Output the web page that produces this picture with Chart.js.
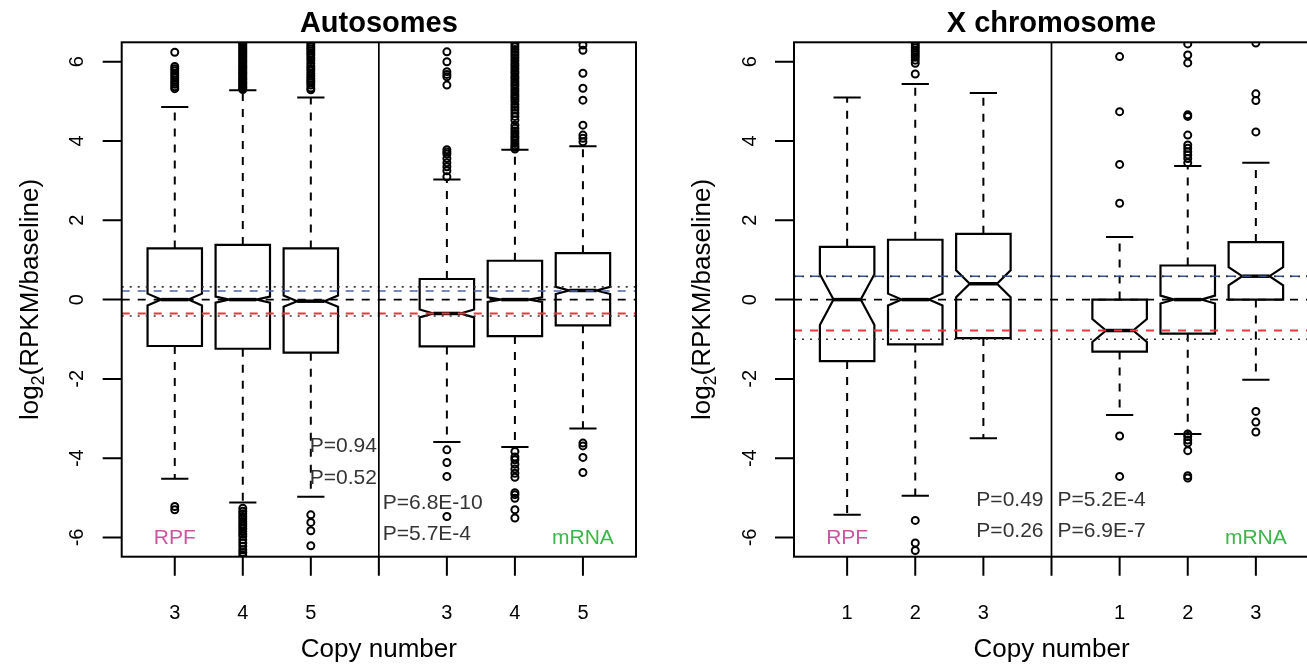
<!DOCTYPE html>
<html>
<head>
<meta charset="utf-8">
<script src="https://cdn.jsdelivr.net/npm/chart.js@4.4.1/dist/chart.umd.min.js"></script>
<style>
html, body { margin: 0; padding: 0; background: #fff; overflow: hidden; }
#wrap { position: relative; width: 1307px; height: 670px; overflow: hidden; }
canvas { position: absolute; top: 0; }
</style>
</head>
<body>
<div id="wrap">
  <canvas id="cAuto" width="660" height="670" style="left:0px"></canvas>
  <canvas id="cX" width="660" height="670" style="left:660px"></canvas>
</div>
<script>
// box positions on x (4 is the RPF | mRNA divider)
const positions = [1, 2, 3, 5, 6, 7];
const tickPos = [1, 2, 3, 4, 5, 6, 7];
const autoTickLabels = ['3', '4', '5', '', '3', '4', '5'];
const xTickLabels = ['1', '2', '3', '', '1', '2', '3'];
const yTicks = [-6, -4, -2, 0, 2, 4, 6];

// Autosomes: RPF cn 3,4,5 then mRNA cn 3,4,5
const autoQ1 = [-1.17, -1.24, -1.34, -1.18, -0.92, -0.65];
const autoMed = [0, 0, -0.04, -0.35, 0, 0.23];
const autoQ3 = [1.29, 1.38, 1.29, 0.52, 0.98, 1.17];
const autoNotch = [0.15, 0.075, 0.14, 0.10, 0.06, 0.09];
const autoLo = [-4.52, -5.12, -4.97, -3.59, -3.72, -3.25];
const autoHi = [4.86, 5.28, 5.10, 3.03, 3.78, 3.87];
const autoOut = [
  [6.24, 5.88, 5.82, 5.77, 5.71, 5.66, 5.60, 5.54, 5.48, 5.43, 5.37, 5.32, -5.22, -5.30],
  [5.30, 5.33, 5.36, 5.40, 5.44, 5.47, 5.51, 5.55, 5.58, 5.62, 5.66, 5.70, 5.73, 5.77, 5.81, 5.85,
   5.88, 5.92, 5.96, 6.00, 6.04, 6.08, 6.12, 6.16, 6.20, 6.24, 6.28, 6.32, 6.36, 6.40, 6.44, 6.48,
   -5.26, -5.34, -5.40, -5.47, -5.53, -5.60, -5.66, -5.72, -5.78, -5.85, -5.91, -5.97, -6.06, -6.14,
   -6.22, -6.31, -6.38, -6.45],
  [5.29, 5.34, 5.41, 5.47, 5.52, 5.58, 5.64, 5.70, 5.77, 5.83, 5.89, 5.96, 6.04, 6.10, 6.17, 6.22,
   6.28, 6.33, 6.38, 6.44, -5.43, -5.62, -5.83, -6.21],
  [6.25, 6.00, 5.75, 5.68, 5.62, 5.41, 3.78, 3.72, 3.67, 3.56, 3.45, 3.35, 3.25, 3.10,
   -3.79, -4.11, -4.46, -5.47],
  [3.80, 3.84, 3.88, 3.94, 4.00, 4.07, 4.12, 4.19, 4.25, 4.32, 4.40, 4.53, 4.62, 4.70, 4.78, 4.85,
   4.92, 5.00, 5.06, 5.12, 5.18, 5.25, 5.31, 5.38, 5.44, 5.50, 5.57, 5.63, 5.70, 5.76, 5.83, 5.90,
   5.96, 6.03, 6.10, 6.17, 6.24, 6.31, 6.38, 6.45,
   -3.83, -3.97, -4.04, -4.15, -4.27, -4.38, -4.48, -4.87, -4.92, -5.01, -5.30, -5.51],
  [6.42, 6.29, 5.71, 5.33, 5.03, 4.40, 4.15, 4.07, 3.98, -3.62, -3.69, -3.98, -4.36]
];
const autoDotted = [0.32, -0.415];
const autoBlue = [0.22];
const autoRed = [-0.35];
const autoP = ['P=0.94', 'P=0.52', 'P=6.8E-10', 'P=5.7E-4'];

// X chromosome: RPF cn 1,2,3 then mRNA cn 1,2,3
const xQ1 = [-1.55, -1.13, -0.97, -1.31, -0.86, 0];
const xMed = [0, 0, 0.40, -0.78, 0, 0.59];
const xQ3 = [1.33, 1.51, 1.66, 0, 0.86, 1.45];
const xNotch = [0.64, 0.15, 0.34, 0.29, 0.10, 0.23];
const xLo = [-5.43, -4.95, -3.50, -2.91, -3.39, -2.02];
const xHi = [5.10, 5.44, 5.21, 1.58, 3.37, 3.45];
const xOut = [
  [],
  [6.46, 6.40, 6.35, 6.29, 6.23, 6.17, 6.11, 6.04, 5.96, 5.69, -5.57, -6.14, -6.33],
  [],
  [6.13, 4.74, 3.41, 2.43, -3.44, -4.46],
  [6.45, 6.17, 5.97, 4.66, 4.62, 4.15, 3.90, 3.82, 3.73, 3.65, 3.56, 3.45,
   -3.39, -3.45, -3.54, -3.62, -3.81, -4.44, -4.50],
  [6.47, 5.19, 5.02, 4.23, -2.82, -3.09, -3.34]
];
const xDotted = [0.585, -1.0];
const xBlue = [0.59];
const xRed = [-0.78];
const xP = ['P=0.49', 'P=0.26', 'P=5.2E-4', 'P=6.9E-7'];

const XMIN = 0.22, XMAX = 7.78;
const YMIN = -6.485, YMAX = 6.49;
const FONT = '"Liberation Sans", Arial, Helvetica, sans-serif';


function hline(v, color, dash, width)
{
  return {
    data: [{x: XMIN, y: v}, {x: XMAX, y: v}],
    showLine: true, pointRadius: 0,
    borderColor: color, borderWidth: width, borderDash: dash
  };
}


function drawBoxes(chart, st)
{
  const ctx = chart.ctx, xs = chart.scales.x, ys = chart.scales.y;
  const Y = v => ys.getPixelForValue(v);
  ctx.save();
  ctx.strokeStyle = '#000';
  for (let i = 0; i < positions.length; i++) {
    const xc = xs.getPixelForValue(positions[i]);
    const w = xs.getPixelForValue(positions[i] + 0.4) - xc;
    const cap = w * 0.5;
    const med = st.med[i], nh = st.notch[i];

    // whiskers
    ctx.lineWidth = 2;
    ctx.setLineDash([8, 8]);
    ctx.beginPath();
    ctx.moveTo(xc, Y(st.q3[i])); ctx.lineTo(xc, Y(st.hi[i]));
    ctx.moveTo(xc, Y(st.q1[i])); ctx.lineTo(xc, Y(st.lo[i]));
    ctx.stroke();
    ctx.setLineDash([]);
    ctx.beginPath();
    ctx.moveTo(xc - cap, Y(st.hi[i])); ctx.lineTo(xc + cap, Y(st.hi[i]));
    ctx.moveTo(xc - cap, Y(st.lo[i])); ctx.lineTo(xc + cap, Y(st.lo[i]));
    ctx.stroke();

    // notched box
    ctx.lineWidth = 2.2;
    ctx.beginPath();
    ctx.moveTo(xc - w, Y(st.q1[i]));
    ctx.lineTo(xc - w, Y(med - nh));
    ctx.lineTo(xc - w / 2, Y(med));
    ctx.lineTo(xc - w, Y(med + nh));
    ctx.lineTo(xc - w, Y(st.q3[i]));
    ctx.lineTo(xc + w, Y(st.q3[i]));
    ctx.lineTo(xc + w, Y(med + nh));
    ctx.lineTo(xc + w / 2, Y(med));
    ctx.lineTo(xc + w, Y(med - nh));
    ctx.lineTo(xc + w, Y(st.q1[i]));
    ctx.closePath();
    ctx.stroke();

    // median
    ctx.lineWidth = 3.5;
    ctx.beginPath();
    ctx.moveTo(xc - w / 2, Y(med)); ctx.lineTo(xc + w / 2, Y(med));
    ctx.stroke();
  }
  ctx.restore();
}


function drawFrame(chart, st)
{
  const ctx = chart.ctx, xs = chart.scales.x, ys = chart.scales.y;
  const a = chart.chartArea;
  const Y = v => ys.getPixelForValue(v);
  const X = v => xs.getPixelForValue(v);
  ctx.save();
  ctx.strokeStyle = '#000';
  ctx.fillStyle = '#000';

  // frame + divider
  ctx.lineWidth = 2;
  ctx.strokeRect(a.left, a.top, a.right - a.left, a.bottom - a.top);
  ctx.lineWidth = 1.7;
  ctx.beginPath();
  ctx.moveTo(X(4), a.top); ctx.lineTo(X(4), a.bottom);
  ctx.stroke();

  // ticks
  ctx.lineWidth = 2;
  ctx.beginPath();
  tickPos.forEach(p => { ctx.moveTo(X(p), a.bottom); ctx.lineTo(X(p), a.bottom + 19); });
  yTicks.forEach(v => { ctx.moveTo(a.left - 19, Y(v)); ctx.lineTo(a.left, Y(v)); });
  ctx.stroke();

  ctx.font = '20px ' + FONT;
  ctx.textAlign = 'center';
  ctx.textBaseline = 'middle';
  tickPos.forEach((p, i) => ctx.fillText(st.ticks[i], X(p), a.bottom + 57));

  // y tick labels, rotated
  ctx.font = '20px ' + FONT;
  yTicks.forEach(v => {
    ctx.save();
    ctx.translate(a.left - 45, Y(v));
    ctx.rotate(-Math.PI / 2);
    ctx.fillText(String(v), 0, 1);
    ctx.restore();
  });

  // titles
  const cx = (a.left + a.right) / 2;
  ctx.textBaseline = 'alphabetic';
  ctx.font = 'bold 29px ' + FONT;
  ctx.fillText(st.title, cx, 31.7);
  ctx.font = '26px ' + FONT;
  ctx.fillText('Copy number', cx, 657);

  // y axis title with subscript
  ctx.save();
  ctx.translate(a.left - 93 + 9, (a.top + a.bottom) / 2);
  ctx.rotate(-Math.PI / 2);
  ctx.textAlign = 'left';
  const t1 = 'log', t3 = '(RPKM/baseline)';
  ctx.font = '26px ' + FONT;
  const w1 = ctx.measureText(t1).width, w3 = ctx.measureText(t3).width;
  ctx.font = '18px ' + FONT;
  const w2 = ctx.measureText('2').width;
  let x0 = -(w1 + w2 + w3) / 2;
  ctx.font = '26px ' + FONT;
  ctx.fillText(t1, x0, 0);
  ctx.font = '18px ' + FONT;
  ctx.fillText('2', x0 + w1, 6);
  ctx.font = '26px ' + FONT;
  ctx.fillText(t3, x0 + w1 + w2, 0);
  ctx.restore();

  // group labels
  ctx.textBaseline = 'middle';
  ctx.font = '21px ' + FONT;
  ctx.fillStyle = '#c9559f';
  ctx.fillText('RPF', X(1), Y(-6) + 1);
  ctx.fillStyle = '#3db54a';
  ctx.fillText('mRNA', X(7), Y(-6) + 1);

  // p-values
  ctx.fillStyle = '#333';
  st.pText(ctx, X, Y, st.p);
  ctx.restore();
}


function makePanel(id, st, pad)
{
  const datasets = [];
  st.dotted.forEach(v => datasets.push(hline(v, '#333', [2, 6], 1.6)));
  datasets.push(hline(0, '#000', [8, 8], 1.7));
  st.blue.forEach(v => datasets.push(hline(v, st.blueColor, [8, 8], 1.5)));
  st.red.forEach(v => datasets.push(hline(v, '#e8383d', [8, 8], 1.8)));

  const pts = [];
  positions.forEach((p, i) => st.out[i].forEach(v => pts.push({x: p, y: v})));
  datasets.push({
    data: pts, pointStyle: 'circle', pointRadius: 3.5,
    pointBorderColor: '#000', pointBackgroundColor: 'rgba(0,0,0,0)', pointBorderWidth: 2
  });

  return new Chart(document.getElementById(id), {
    type: 'scatter',
    data: { datasets: datasets },
    options: {
      responsive: false, animation: false, devicePixelRatio: 1, events: [],
      layout: { padding: pad },
      plugins: { legend: { display: false }, tooltip: { enabled: false }, title: { display: false } },
      scales: {
        x: { type: 'linear', min: XMIN, max: XMAX, display: false },
        y: { type: 'linear', min: YMIN, max: YMAX, display: false }
      }
    },
    plugins: [{
      id: 'boxes',
      beforeDatasetsDraw: chart => drawBoxes(chart, st),
      afterDraw: chart => drawFrame(chart, st)
    }]
  });
}


makePanel('cAuto', {
  title: 'Autosomes', ticks: autoTickLabels,
  q1: autoQ1, med: autoMed, q3: autoQ3, notch: autoNotch, lo: autoLo, hi: autoHi, out: autoOut,
  dotted: autoDotted, blue: autoBlue, red: autoRed, blueColor: '#4a64b4', p: autoP,
  pText: (ctx, X, Y, p) => {
    ctx.textAlign = 'left';
    ctx.fillText(p[0], X(3) - 1, Y(-3.7));
    ctx.fillText(p[1], X(3) - 1, Y(-4.5));
    ctx.fillText(p[2], X(4) + 4, Y(-5.13));
    ctx.fillText(p[3], X(4) + 4, Y(-5.93));
  }
}, { left: 121.7, right: 24, top: 42.3, bottom: 113.3 });

makePanel('cX', {
  title: 'X chromosome', ticks: xTickLabels,
  q1: xQ1, med: xMed, q3: xQ3, notch: xNotch, lo: xLo, hi: xHi, out: xOut,
  dotted: xDotted, blue: xBlue, red: xRed, blueColor: '#2f4f9f', p: xP,
  pText: (ctx, X, Y, p) => {
    ctx.textAlign = 'right';
    ctx.fillText(p[0], X(4) - 8, Y(-5.05));
    ctx.fillText(p[1], X(4) - 8, Y(-5.85));
    ctx.textAlign = 'left';
    ctx.fillText(p[2], X(4) + 6, Y(-5.05));
    ctx.fillText(p[3], X(4) + 6, Y(-5.85));
  }
}, { left: 134, right: 11, top: 42.3, bottom: 113.3 });
</script>
</body>
</html>
